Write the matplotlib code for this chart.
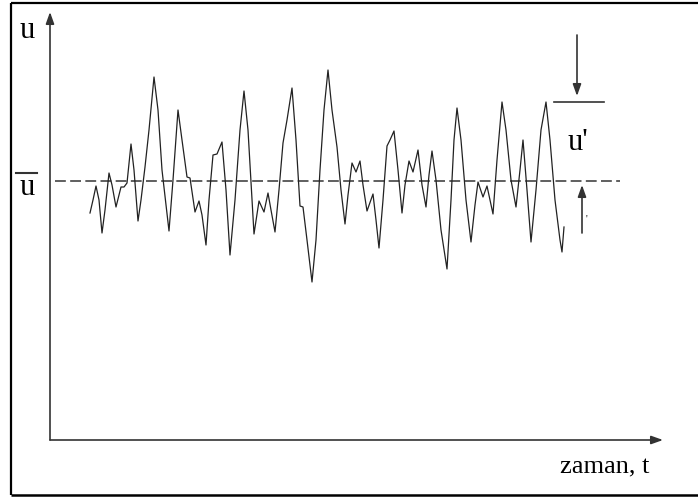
# Turbulent velocity signal u(t): fluctuation around the mean value u-bar
import numpy as np
import matplotlib.pyplot as plt

plt.rcParams['font.family'] = ['Liberation Serif', 'DejaVu Serif']

# signal (t to the right, u upward, in picture units)
t_sig = [40, 43, 46, 49, 52, 55, 59, 62, 66, 69, 71, 74, 77, 81, 84, 88, 91, 95, 99, 104,
         108, 112, 119, 123, 128, 132, 137, 140, 145, 149, 152, 156, 159, 163, 167, 172,
         176, 180, 185, 190, 194, 198, 204, 209, 214, 218, 221, 225, 229, 233, 237, 242,
         246, 250, 253, 257, 262, 266, 270, 274, 278, 282, 287, 291, 295, 298, 302, 306,
         310, 313, 317, 323, 326, 329, 333, 337, 340, 344, 348, 352, 355, 359, 363, 368,
         372, 376, 379, 382, 386, 391, 397, 401, 404, 407, 411, 416, 421, 425, 428, 433,
         437, 440, 443, 447, 452, 456, 461, 466, 470, 473, 477, 481, 486, 491, 496, 500,
         505, 510, 512, 514]
u_sig = [227, 240, 254, 240, 207, 230, 267, 255, 233, 245, 253, 253, 257, 296, 270, 219,
         240, 273, 310, 363, 330, 270, 209, 260, 330, 300, 263, 262, 228, 239, 225, 195,
         240, 285, 286, 298, 250, 185, 240, 310, 349, 310, 206, 239, 228, 247, 230, 208,
         250, 297, 320, 352, 300, 234, 233, 200, 158, 200, 270, 330, 370, 330, 293, 250,
         216, 245, 277, 268, 279, 255, 229, 246, 220, 192, 240, 294, 300, 309, 270, 227,
         255, 279, 268, 290, 255, 233, 265, 289, 260, 210, 171, 240, 300, 332, 300, 240,
         198, 235, 258, 243, 254, 240, 226, 280, 338, 310, 260, 233, 270, 300, 250, 198,
         250, 310, 338, 300, 240, 200, 188, 213]

u_mean = 259          # dashed mean line
u_peak = 338          # level marked by the u' bracket

fig = plt.figure(figsize=(6.98, 4.98), dpi=100)
ax = fig.add_axes([0, 0, 1, 1])
ax.set_xlim(-50, 648)
ax.set_ylim(-58, 440)
ax.axis('off')

# frame round the picture (no right side)
ax.plot([-39.5, -39.5], [-55, 437], color='black', lw=1.6, solid_capstyle='butt')
ax.plot([-39.5, 648], [437, 437], color='black', lw=1.6, solid_capstyle='butt')
ax.plot([-39.5, 648], [-55, -55], color='black', lw=1.8, solid_capstyle='butt')

# coordinate axes with arrow heads
arr = dict(arrowstyle='-|>,head_length=0.7,head_width=0.25', color='#333333', lw=1.2,
           shrinkA=0, shrinkB=0)
ax.annotate('', xy=(0, 428), xytext=(0, 0), arrowprops=arr)
ax.annotate('', xy=(613, 0), xytext=(0, 0), arrowprops=arr)

# mean value
ax.plot([5, 570], [u_mean, u_mean], color='#444444', lw=1.2, dashes=(6.5, 2.6))

# fluctuating signal
ax.plot(t_sig, u_sig, color='#222222', lw=0.9, solid_joinstyle='round')

# u' bracket
ax.plot([504, 554], [u_peak, u_peak], color='#333333', lw=1.2)
ax.annotate('', xy=(527, 344), xytext=(527, 405), arrowprops=arr)
ax.annotate('', xy=(532, 255), xytext=(532, 207), arrowprops=arr)
ax.text(536, 221, "'", fontsize=7, ha='center', va='center')

# labels
ax.text(-23, 410, 'u', fontsize=22, ha='center', va='center')
ax.text(-23, 253, 'u', fontsize=22, ha='center', va='center')
ax.plot([-34, -13], [267, 267], color='#333333', lw=1.5)
ax.text(528, 298, "u'", fontsize=22, ha='center', va='center')
ax.text(555, -27, 'zaman, t', fontsize=19, ha='center', va='center')

fig.savefig('out.png', dpi=100)
